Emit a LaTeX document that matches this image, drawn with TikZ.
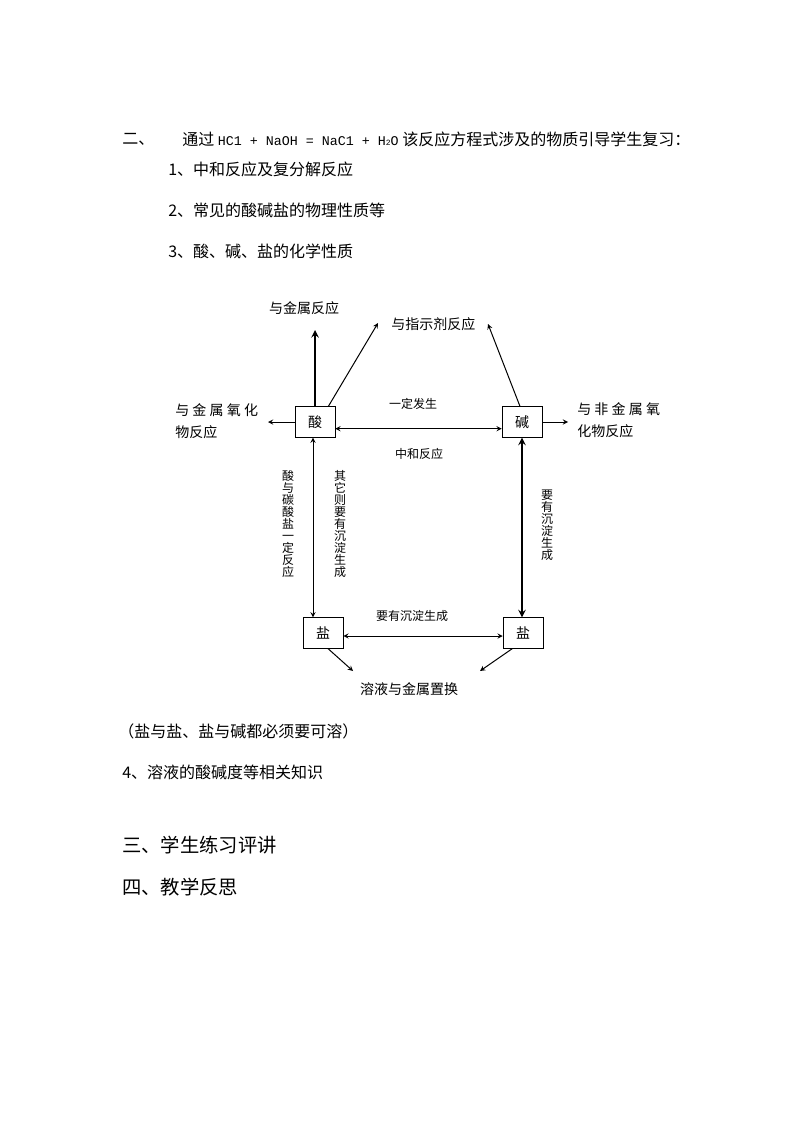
\documentclass[tikz,border=0pt]{standalone}
\usepackage{fontspec}
\setmainfont{Noto Sans CJK SC}
\newfontfamily\latinmono{Liberation Mono}
\usetikzlibrary{arrows, positioning}
\tikzstyle{chembox} = [draw, rectangle, minimum width=30pt, minimum height=23pt, inner sep=0pt, font=\fontsize{10.5}{12}\selectfont]
\tikzstyle{reactlabel} = [inner sep=0pt, font=\fontsize{10.5}{16}\selectfont]
\tikzstyle{smalllabel} = [inner sep=0pt, font=\fontsize{9}{9}\selectfont]
\tikzstyle{vertlabel} = [smalllabel, align=center]
\tikzstyle{bodytext} = [inner sep=0pt, anchor=west, font=\fontsize{12}{14}\selectfont]
\tikzstyle{headtext} = [inner sep=0pt, anchor=west, font=\fontsize{14.5}{18}\selectfont]
\tikzstyle{chemarrow} = [->, >=stealth, line width=0.75pt]
\tikzstyle{chemdarrow} = [<->, >=stealth, line width=0.75pt]
\newcommand{\cgap}{\hspace{2.4pt}}

\begin{document}
\begin{tikzpicture}[x=0.75pt, y=-0.75pt]
		\useasboundingbox (0,0) rectangle (794,1123);
		% text above the chart
		\node (sec2) [bodytext] at (122,139) {二、};
		\node (intro) [bodytext] at (182,139) {通过 {\latinmono\fontsize{10}{14}\selectfont HC1 + NaOH = NaC1 + H\raisebox{-0.1ex}{\fontsize{6}{6}\selectfont 2}O} 该反应方程式涉及的物质引导学生复习：};
		\node (item1) [bodytext] at (168,169) {1、中和反应及复分解反应};
		\node (item2) [bodytext] at (168,210) {2、常见的酸碱盐的物理性质等};
		\node (item3) [bodytext] at (168,251) {3、酸、碱、盐的化学性质};
		% the four boxes
		\node (suan) [chembox] at (315,422) {酸};
		\node (jian) [chembox] at (522,422) {碱};
		\node (yanl) [chembox] at (323,633) {盐};
		\node (yanr) [chembox] at (523,633) {盐};
		% outer labels
		\node (jinshu) [reactlabel] at (304,308) {与金属反应};
		\node (zhishi) [reactlabel, anchor=west] at (391,324) {与指示剂反应};
		\node (jinyang) [reactlabel, anchor=west, align=left] at (175,421) {与\cgap 金\cgap 属\cgap 氧\cgap 化\\物反应};
		\node (feijin) [reactlabel, anchor=west, align=left] at (577,420) {与\cgap 非\cgap 金\cgap 属\cgap 氧\\化物反应};
		\node (zhihuan) [reactlabel] at (409,689) {溶液与金属置换};
		\node (yiding) [smalllabel] at (413,404) {一定发生};
		\node (zhonghe) [smalllabel] at (419,454) {中和反应};
		\node (chendian) [smalllabel] at (412,616) {要有沉淀生成};
		\node (tansuan) [vertlabel] at (288,524) {酸\\与\\碳\\酸\\盐\\一\\定\\反\\应};
		\node (qita) [vertlabel] at (340,524) {其\\它\\则\\要\\有\\沉\\淀\\生\\成};
		\node (chendian2) [vertlabel] at (547,525) {要\\有\\沉\\淀\\生\\成};
		% free ends
		\coordinate (up_j) at (315,330);
		\coordinate (zs_l) at (378,323);
		\coordinate (zs_r) at (488,324);
		\coordinate (ox_l) at (268,422);
		\coordinate (ox_r) at (568,422);
		\coordinate (zh_l) at (353,671);
		\coordinate (zh_r) at (480,671);
		% connectors
		\draw [chemarrow, line width=1.5pt] (suan.north) -- (up_j);
		\draw [chemarrow] ([xshift=10pt]suan.north) -- (zs_l);
		\draw [chemarrow] ([xshift=-1.5pt]jian.north) -- (zs_r);
		\draw [chemarrow] (suan.west) -- (ox_l);
		\draw [chemarrow] (jian.east) -- (ox_r);
		\draw [chemdarrow] ([yshift=-5pt]suan.east) -- ([yshift=-5pt]jian.west);
		\draw [chemdarrow] ([xshift=-1.5pt]suan.south) -- ([xshift=-1.5pt]suan.south |- yanl.north);
		\draw [chemdarrow, line width=1.5pt] (jian.south) -- (jian.south |- yanr.north);
		\draw [chemdarrow] ([yshift=-2.25pt]yanl.east) -- ([yshift=-2.25pt]yanr.west);
		\draw [chemarrow] ([xshift=3.75pt]yanl.south) -- (zh_l);
		\draw [chemarrow] ([xshift=-8pt]yanr.south) -- (zh_r);
		% text below the chart
		\node (note) [bodytext] at (118,731) {（盐与盐、盐与碱都必须要可溶）};
		\node (item4) [bodytext] at (122,772) {4、溶液的酸碱度等相关知识};
		\node (sec3) [headtext] at (122,845) {三、学生练习评讲};
		\node (sec4) [headtext] at (122,887) {四、教学反思};
	\end{tikzpicture}
\end{document}
